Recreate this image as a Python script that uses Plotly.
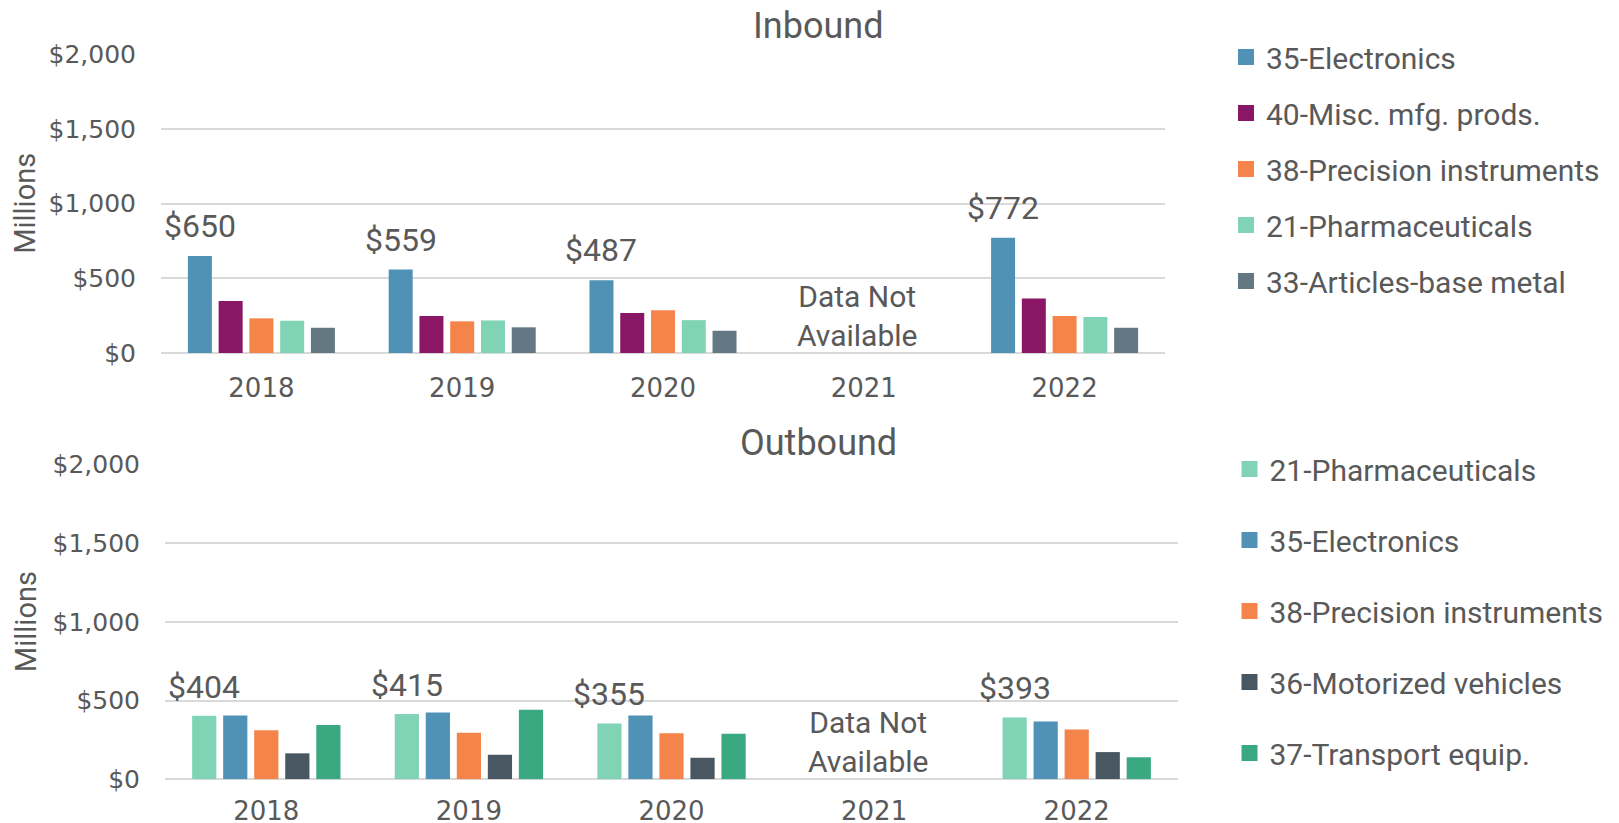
import plotly.graph_objects as go

W, H = 1619, 823

years = ["2018", "2019", "2020", "2021", "2022"]

# Inbound (millions of dollars)
in_names = ["35-Electronics", "40-Misc. mfg. prods.", "38-Precision instruments",
            "21-Pharmaceuticals", "33-Articles-base metal"]
electronics_in = [650, 559, 487, None, 772]
misc_in = [348, 247, 267, None, 365]
precision_in = [232, 212, 287, None, 247]
pharma_in = [216, 218, 220, None, 241]
metal_in = [169, 172, 149, None, 169]

# Outbound (millions of dollars)
out_names = ["21-Pharmaceuticals", "35-Electronics", "38-Precision instruments",
             "36-Motorized vehicles", "37-Transport equip."]
pharma_out = [404, 415, 355, None, 393]
electronics_out = [405, 425, 406, None, 368]
precision_out = [311, 296, 292, None, 317]
motor_out = [165, 156, 137, None, 173]
transport_out = [345, 442, 289, None, 140]

y_ticks = [0, 500, 1000, 1500, 2000]
missing_year = "2021"

C_ELEC = "#5092B6"
C_MISC = "#891766"
C_PREC = "#F4844A"
C_PHAR = "#80D4B5"
C_META = "#647883"
C_MOTO = "#495762"
C_TRAN = "#3AA981"

in_series = [electronics_in, misc_in, precision_in, pharma_in, metal_in]
in_colors = [C_ELEC, C_MISC, C_PREC, C_PHAR, C_META]
out_series = [pharma_out, electronics_out, precision_out, motor_out, transport_out]
out_colors = [C_PHAR, C_ELEC, C_PREC, C_MOTO, C_TRAN]

TXT = "#595959"
GRID = "#D9D9D9"
FONT = "Roboto"
TICKFONT = "DejaVu Sans"

BARGAP = 0.234
BARGROUPGAP = 0.22

# layout geometry (pixels)
top_x0, top_x1, top_y0, top_y1 = 161, 1165, 53.7, 353
bot_x0, bot_x1, bot_y0, bot_y1 = 165, 1178, 464, 779.3

fig = go.Figure()

for i, (name, vals, col) in enumerate(zip(in_names, in_series, in_colors)):
    fig.add_trace(go.Bar(x=years, y=vals, name=name, marker=dict(color=col, line=dict(width=0)),
                         xaxis="x", yaxis="y", showlegend=False, offsetgroup=str(i)))
    fig.add_trace(go.Scatter(x=[None], y=[None], mode="markers", name=name,
                             marker=dict(symbol="square", size=16, color=col),
                             xaxis="x", yaxis="y", legend="legend", legendgroup="in" + str(i)))

for i, (name, vals, col) in enumerate(zip(out_names, out_series, out_colors)):
    fig.add_trace(go.Bar(x=years, y=vals, name=name, marker=dict(color=col, line=dict(width=0)),
                         xaxis="x2", yaxis="y2", showlegend=False, offsetgroup=str(i)))
    fig.add_trace(go.Scatter(x=[None], y=[None], mode="markers", name=name,
                             marker=dict(symbol="square", size=16, color=col),
                             xaxis="x2", yaxis="y2", legend="legend2", legendgroup="out" + str(i)))

def xdom(a, b):
    return [a / W, b / W]

def ydom(top, bottom):
    return [1 - bottom / H, 1 - top / H]

axis_common_x = dict(type="category", categoryorder="array", categoryarray=years,
                     range=[-0.5, len(years) - 0.5], automargin=False,
                     showgrid=False, zeroline=False, showline=False, ticks="",
                     tickfont=dict(family=TICKFONT, size=26, color=TXT),
                     fixedrange=True)
axis_common_y = dict(range=[0, 2004], tickvals=y_ticks, automargin=False,
                     ticktext=["${:,}".format(v) for v in y_ticks],
                     showgrid=True, gridcolor=GRID, gridwidth=2,
                     zeroline=True, zerolinecolor=GRID, zerolinewidth=2,
                     showline=False, ticks="",
                     tickfont=dict(family=TICKFONT, size=25, color=TXT),
                     ticklabelstandoff=24, fixedrange=True)

fig.update_layout(
    template="none",
    width=W, height=H,
    margin=dict(l=0, r=0, t=0, b=0, autoexpand=False),
    paper_bgcolor="white", plot_bgcolor="white",
    barmode="group", bargap=BARGAP, bargroupgap=BARGROUPGAP,
    font=dict(family=FONT, color=TXT),
    xaxis=dict(domain=xdom(top_x0, top_x1), anchor="y", ticklabelstandoff=17, **axis_common_x),
    yaxis=dict(domain=ydom(top_y0, top_y1), anchor="x", **axis_common_y),
    xaxis2=dict(domain=xdom(bot_x0, bot_x1), anchor="y2", ticklabelstandoff=14, **axis_common_x),
    yaxis2=dict(domain=ydom(bot_y0, bot_y1), anchor="x2", **axis_common_y),
    legend=dict(x=1226 / W, xanchor="left", y=1 - 31 / H, yanchor="top",
                font=dict(family=FONT, size=30, color=TXT),
                traceorder="grouped", tracegroupgap=14, itemclick=False,
                bgcolor="rgba(0,0,0,0)"),
    legend2=dict(x=1229.5 / W, xanchor="left", y=1 - 443 / H, yanchor="top",
                 font=dict(family=FONT, size=30, color=TXT),
                 traceorder="grouped", tracegroupgap=29, itemclick=False,
                 bgcolor="rgba(0,0,0,0)"),
)

annotations = []
# titles
annotations.append(dict(text="Inbound", x=818 / W, y=1 - 26 / H, xref="paper", yref="paper",
                        xanchor="center", yanchor="middle", showarrow=False,
                        font=dict(family=FONT, size=36, color=TXT)))
annotations.append(dict(text="Outbound", x=818 / W, y=1 - 443.3 / H, xref="paper", yref="paper",
                        xanchor="center", yanchor="middle", showarrow=False,
                        font=dict(family=FONT, size=36, color=TXT)))
# y axis titles
for (t, b) in [(top_y0, top_y1), (bot_y0, bot_y1)]:
    annotations.append(dict(text="Millions", x=25.5 / W, y=1 - (t + b) / 2 / H,
                            xref="paper", yref="paper", xanchor="center", yanchor="middle",
                            textangle=-90, showarrow=False,
                            font=dict(family=FONT, size=29, color=TXT)))

# data labels on first bar of each group (category axes use index positions)
top_slot = (top_x1 - top_x0) / len(years) * (1 - BARGAP) / len(in_series)
bot_slot = (bot_x1 - bot_x0) / len(years) * (1 - BARGAP) / len(out_series)
for k, v in enumerate(electronics_in):
    if v is not None:
        annotations.append(dict(text="${:,.0f}".format(v), x=k, y=v, xref="x", yref="y",
                                xanchor="center", yanchor="bottom", xshift=-2 * top_slot, yshift=9,
                                showarrow=False, font=dict(family=FONT, size=32, color=TXT)))
for k, v in enumerate(pharma_out):
    if v is not None:
        annotations.append(dict(text="${:,.0f}".format(v), x=k, y=v, xref="x2", yref="y2",
                                xanchor="center", yanchor="bottom", xshift=-2 * bot_slot, yshift=8,
                                showarrow=False, font=dict(family=FONT, size=32, color=TXT)))

# Data not available notes
mi = years.index(missing_year)
annotations.append(dict(text="Data Not<br>Available", x=mi, y=0, xref="x", yref="y",
                        xanchor="center", yanchor="bottom", xshift=-7, yshift=-2, showarrow=False,
                        font=dict(family=FONT, size=30, color=TXT)))
annotations.append(dict(text="Data Not<br>Available", x=mi, y=0, xref="x2", yref="y2",
                        xanchor="center", yanchor="bottom", xshift=-6, yshift=-2, showarrow=False,
                        font=dict(family=FONT, size=30, color=TXT)))

fig.update_layout(annotations=annotations)

fig.write_html(
    "out.html",
    config={"displayModeBar": False},
    post_script="document.body.style.margin='0';document.body.style.padding='0';"
                "document.documentElement.style.overflow='hidden';",
)
